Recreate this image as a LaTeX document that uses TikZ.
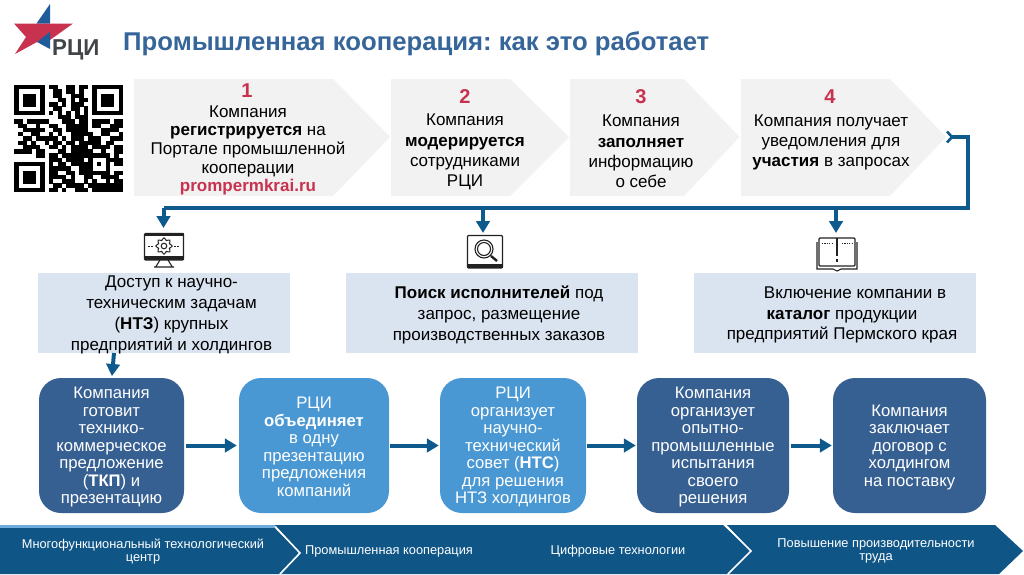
\documentclass[tikz,border=0pt]{standalone}
\usepackage{fontspec}
\setmainfont{Liberation Sans}
\usetikzlibrary{arrows.meta}
\definecolor{chev}{HTML}{F2F2F2}
\definecolor{flow}{HTML}{0F5A8C}
\definecolor{band}{HTML}{0F5687}
\definecolor{lite}{HTML}{DAE4F0}
\definecolor{darkbox}{HTML}{365F92}
\definecolor{midbox}{HTML}{4A98D3}
\definecolor{redn}{HTML}{C8324F}
\definecolor{titlec}{HTML}{36659A}
\definecolor{logoblue}{HTML}{1F5C99}
\definecolor{logogray}{HTML}{404548}
\definecolor{icon}{HTML}{222222}
\newcount\qrx
\newcount\qry
\def\qrscan#1{\ifx#1\relax\else
  \if#11\fill[black] (14+\the\qrx*4.36,85+\the\qry*4.28) rectangle +(4.5,4.4);\fi
  \advance\qrx by 1 \expandafter\qrscan\fi}
\def\qrrow#1{\qrx=0 \qrscan#1\relax \advance\qry by 1 }
\frenchspacing
\tikzset{
  x=1pt,y=-1pt,
  chevron/.style={fill=chev,draw=none},
  steptext/.style={text=black,align=center,font=\fontsize{17}{20.2}\selectfont,inner sep=0},
  litebox/.style={fill=lite,draw=none,inner sep=0},
  boxtext/.style={text=black,align=center,font=\fontsize{17}{20.9}\selectfont,inner sep=0},
  roundbox/.style={rounded corners=22pt,draw=none,inner sep=0,minimum height=135pt},
  roundtext/.style={text=white,align=center,font=\fontsize{16.7}{17.5}\selectfont,inner sep=0},
  flowline/.style={draw=flow,line width=4pt},
  flowarrow/.style={draw=flow,line width=4pt,-{Triangle[length=12pt,width=13.5pt]}},
  bandtext/.style={text=white,align=center,font=\fontsize{12.8}{13.8}\selectfont,inner sep=0},
  numtext/.style={text=redn,font=\bfseries\fontsize{20}{22}\selectfont,inner sep=0},
  iconline/.style={draw=icon,line width=1.1pt},
}
\begin{document}
\begin{tikzpicture}
\useasboundingbox[fill=white] (0,0) rectangle (1024,574);
% logo
\fill[logoblue] (50,4)--(36.5,23.5)--(50,23.5)--cycle;
\fill[redn] (14,23.5)--(73,23.5)--(50,40)--(37,42)--(15,54)--(26,37)--cycle;
\fill[logoblue] (37,42)--(50,32)--(50,49)--cycle;
\node[text=logogray,font=\bfseries\fontsize{23}{23}\selectfont,inner sep=0,anchor=base west,xscale=0.97] (logotext) at (52,55) {РЦИ};
% title
\node[text=titlec,font=\bfseries\fontsize{25.7}{27}\selectfont,inner sep=0,anchor=base west] (title) at (123,50) {Промышленная кооперация: как это работает};
% QR
\qrrow{1111111011001101101111111}
\qrrow{1000001001101101001000001}
\qrrow{1011101001100111001011101}
\qrrow{1011101000110101101011101}
\qrrow{1011101011010111001011101}
\qrrow{1000001001100110101000001}
\qrrow{1111111010101010101111111}
\qrrow{0000000000111011100000000}
\qrrow{1101111100011101101111011}
\qrrow{0110010011001111101100111}
\qrrow{0011111001101111100011110}
\qrrow{0100110010100111110011001}
\qrrow{0011011111010111011100111}
\qrrow{0110100101101101111101100}
\qrrow{0011110011010111101111011}
\qrrow{1111011000110111110010011}
\qrrow{0000011011011111111111010}
\qrrow{0000000011101111010001111}
\qrrow{1111111010110111110101011}
\qrrow{1000001011111001110001000}
\qrrow{1011101011001101111111011}
\qrrow{1011101011110100110011110}
\qrrow{1011101010011100101001011}
\qrrow{1000001001101111011111111}
\qrrow{1111111011010011101111111}
% chevrons
\fill[chevron] (134,79)--(333,79)--(390,137)--(333,196)--(134,196)--cycle;
\fill[chevron] (391,79)--(510,79)--(569,137)--(510,196)--(391,196)--cycle;
\fill[chevron] (570,79)--(684,79)--(739.5,137)--(684,196)--(570,196)--cycle;
\fill[chevron] (741,79)--(890,79)--(946,137)--(890,196)--(741,196)--cycle;
\node[numtext] (n1) at (247,91) {1};
\node[steptext,font=\fontsize{17}{18.7}\selectfont] (s1) at (248,150.5) {Компания\\\textbf{регистрируется} на\\Портале промышленной\\кооперации\\\textcolor{redn}{\textbf{prompermkrai.ru}}};
\node[numtext] (n2) at (465,96.5) {2};
\node[steptext] (s2) at (465,152) {Компания\\\textbf{модерируется}\\сотрудниками\\РЦИ};
\node[numtext] (n3) at (641,96.5) {3};
\node[steptext] (s3) at (641,151.5) {Компания\\\textbf{заполняет}\\информацию\\о себе};
\node[numtext] (n4) at (830,96.5) {4};
\node[steptext] (s4) at (831,142.5) {Компания получает\\уведомления для\\\textbf{участия} в запросах};
% feedback connector
\coordinate (c4) at (951,137);
\coordinate (corner1) at (968,137);
\coordinate (corner2) at (968,208);
\coordinate (corner3) at (163.5,208);
\coordinate (d2) at (483,208);
\coordinate (d3) at (836,208);
\coordinate (t1) at (163.5,228);
\coordinate (t2) at (483,233);
\coordinate (t3) at (836,233);
\draw[flowline,line join=miter] (c4)--(corner1)--(corner2)--(corner3);
\draw[flow,line width=2.6pt] (947,131.5)--(952,137)--(947,142.5);
\draw[flowarrow] (corner3)--(t1);
\draw[flowarrow] (d2)--(t2);
\draw[flowarrow] (d3)--(t3);
% icon monitor
\draw[iconline,rounded corners=1pt] (144.5,233.5) rectangle (183.5,260);
\fill[icon] (144.5,233)rectangle(183.5,236);
\fill[icon] (144.5,255.5)rectangle(183.5,260);
\draw[iconline] (160,260)--(156,266.5) (168,260)--(172,266.5) (154,267)--(174,267);
\draw[icon,line width=1pt] (164,246) circle (2.8);
\draw[icon,line width=1pt] plot[smooth cycle,samples=33,domain=0:360] ({164+(7+1.2*cos(8*\x))*cos(\x)},{246+(7+1.2*cos(8*\x))*sin(\x)});
\draw[icon,line width=1pt,dash pattern=on 1.5pt off 1.5pt] (148,246)--(154,246) (174,246)--(180,246);
% icon search
\draw[iconline,rounded corners=1pt] (467.5,235.5) rectangle (502.5,268);
\fill[icon] (467,263.5)rectangle(503,268);
\draw[iconline] (484,249) circle (9);
\draw[iconline] (484,249) circle (6.5);
\draw[icon,line width=2.4pt] (491,256)--(497,261);
% icon book
\draw[iconline,rounded corners=1pt] (819,238) rectangle (855,266);
\draw[iconline] (817,242)--(817,269)--(833,269)--(837,271)--(841,269)--(857,269)--(857,242);
\draw[icon,line width=1.6pt] (837,238)--(837,256);
\draw[icon,line width=1.6pt] (837,259)--(837,262);
\draw[icon,line width=1pt,dash pattern=on 1.2pt off 1.2pt] (822,243)--(832,243) (842,243)--(852,243);
% light boxes
\node[litebox,minimum width=252pt,minimum height=80pt] (b1) at (164,313) {};
\node[boxtext] (b1t) at (171.5,315) {Доступ к научно-\\техническим задачам\\(\textbf{НТЗ}) крупных\\предприятий и холдингов};
\node[litebox,minimum width=292pt,minimum height=80pt] (b2) at (492,313) {};
\node[boxtext] (b2t) at (499,315) {\textbf{Поиск исполнителей} под\\запрос, размещение\\производственных заказов};
\node[litebox,minimum width=282pt,minimum height=80pt] (b3) at (835,313) {};
\node[boxtext] (b3t) at (842,315) {\hspace*{26pt}Включение компании в\\\textbf{каталог} продукции\\предприятий Пермского края};
% rounded boxes
\node[roundbox,fill=darkbox,minimum width=145pt] (A) at (111.5,445.5) {};
\node[roundtext] (At) at (111.5,447) {Компания\\готовит\\технико-\\коммерческое\\предложение\\(\textbf{ТКП}) и\\презентацию};
\node[roundbox,fill=midbox,minimum width=150pt] (B) at (314,445.5) {};
\node[roundtext] (Bt) at (314,447) {РЦИ\\\textbf{объединяет}\\в одну\\презентацию\\предложения\\компаний};
\node[roundbox,fill=midbox,minimum width=146pt] (C) at (513,445.5) {};
\node[roundtext] (Ct) at (513,447) {РЦИ\\организует\\научно-\\технический\\совет (\textbf{НТС})\\для решения\\НТЗ холдингов};
\node[roundbox,fill=darkbox,minimum width=152pt] (D) at (713,445.5) {};
\node[roundtext] (Dt) at (713,447) {Компания\\организует\\опытно-\\промышленные\\испытания\\своего\\решения};
\node[roundbox,fill=darkbox,minimum width=153pt] (E) at (909.5,445.5) {};
\node[roundtext] (Et) at (909.5,447) {Компания\\заключает\\договор с\\холдингом\\на поставку};
\coordinate (b1out) at (114,353);
\coordinate (Ain) at (112,376);
\draw[flowarrow] (b1out)--(Ain);
\draw[flowarrow] ([xshift=2pt]A.east)--([xshift=-2pt]B.west);
\draw[flowarrow] ([xshift=1pt]B.east)--([xshift=-1pt]C.west);
\draw[flowarrow] ([xshift=1pt]C.east)--([xshift=-1pt]D.west);
\draw[flowarrow] ([xshift=2pt]D.east)--([xshift=-1pt]E.west);
% bottom band
\fill[midbox!80!white] (0,525)--(276,525)--(280,528)--(0,528)--cycle;
\fill[band] (275,525)--(723,525)--(751,551)--(727,574)--(280,574)--(300,553)--cycle;
\fill[band] (0,528)--(275,528)--(300,553)--(280,574)--(0,574)--cycle;
\fill[band] (727,525)--(995,525)--(1023,551)--(999,574)--(727,574)--(751,551)--cycle;
\draw[white,line width=1.6pt] (275,526.5)--(300,553)--(280,574);
\draw[white,line width=1.6pt] (724,524)--(751,551)--(728,574);
\node[bandtext] (l1) at (143,551.5) {Многофункциональный технологический\\центр};
\node[bandtext] (l2) at (389,551.5) {Промышленная кооперация};
\node[bandtext] (l3) at (618,551.5) {Цифровые технологии};
\node[bandtext] (l4) at (876,551) {Повышение производительности\\труда};
\end{tikzpicture}
\end{document}
